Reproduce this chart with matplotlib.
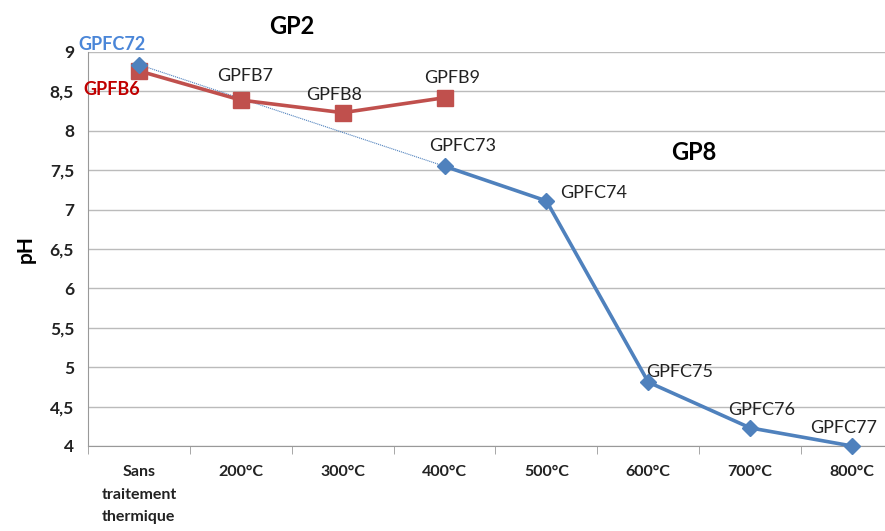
import matplotlib.pyplot as plt
import numpy as np
from matplotlib.ticker import FuncFormatter, FixedLocator

plt.rcParams['font.family'] = ['Lato', 'DejaVu Sans']

# categories
categories = ["Sans\ntraitement\nthermique", "200°C", "300°C", "400°C",
              "500°C", "600°C", "700°C", "800°C"]

# series GP8 (blue) and GP2 (red), NaN where no sample
gp8_ph = [8.84, np.nan, np.nan, 7.55, 7.11, 4.81, 4.23, 4.00]
gp8_names = ["GPFC72", None, None, "GPFC73", "GPFC74", "GPFC75", "GPFC76", "GPFC77"]
gp2_ph = [8.76, 8.39, 8.23, 8.42, np.nan, np.nan, np.nan, np.nan]
gp2_names = ["GPFB6", "GPFB7", "GPFB8", "GPFB9", None, None, None, None]

blue = "#4F81BD"
red = "#C0504D"

fig = plt.figure(figsize=(8.85, 5.31), dpi=100)
ax = fig.add_axes([88/885, 1 - 446/531, (903 - 88)/885, (446 - 52)/531])

x = np.arange(len(categories))

# thin dotted link between first and 400°C sample of GP8
ax.plot([x[0], x[3]], [gp8_ph[0], gp8_ph[3]], color=blue, lw=0.8, ls=(0, (1, 0.8)), zorder=2)

ax.plot(x, gp2_ph, color=red, lw=2.6, marker="s", ms=11, zorder=3, clip_on=False)
ax.plot(x, gp8_ph, color=blue, lw=2.6, marker="D", ms=8.5, zorder=4, clip_on=False)

ax.set_xlim(-0.5, 7.5)
ax.set_ylim(4, 9)
ax.set_yticks(np.arange(4, 9.01, 0.5))
ax.yaxis.set_major_formatter(FuncFormatter(lambda v, p: ("%g" % v).replace(".", ",")))
ax.set_xticks(x)
ax.set_xticklabels(categories, fontweight="bold", fontsize=11.5, color="#222222", linespacing=1.75)
ax.xaxis.set_minor_locator(FixedLocator(np.arange(-0.5, 7.6, 1)))
ax.tick_params(axis="x", which="major", length=0, pad=14)
ax.tick_params(axis="x", which="minor", length=6, color="#999999")
ax.tick_params(axis="y", length=0, pad=10, labelsize=12.5)
for t in ax.get_yticklabels():
    t.set_fontweight("bold")
    t.set_color("#222222")

ax.grid(axis="y", color="#BBBBBB", lw=1)
ax.set_axisbelow(True)
for s in ["top", "right"]:
    ax.spines[s].set_visible(False)
ax.spines["left"].set_color("#999999")
ax.spines["bottom"].set_color("#999999")

ax.set_ylabel("pH", fontweight="bold", fontsize=15, labelpad=10)

# point labels
lab_pos = {
    "GPFC72": (-0.26, 9.10), "GPFB6": (-0.27, 8.52),
    "GPFB7": (1.04, 8.70), "GPFB8": (1.92, 8.45), "GPFB9": (3.07, 8.67),
    "GPFC73": (3.18, 7.81), "GPFC74": (4.46, 7.21), "GPFC75": (5.31, 4.94),
    "GPFC76": (6.11, 4.46), "GPFC77": (6.92, 4.23),
}
for name in gp8_names + gp2_names:
    if name is None:
        continue
    px, py = lab_pos[name]
    if name == "GPFC72":
        ax.text(px, py, name, color="#4A86D8", fontweight="bold", fontsize=13,
                ha="center", va="center", clip_on=False)
    elif name == "GPFB6":
        ax.text(px, py, name, color="#C00000", fontweight="bold", fontsize=13,
                ha="center", va="center", clip_on=False)
    else:
        ax.text(px, py, name, color="#222222", fontsize=13,
                ha="center", va="center", clip_on=False)

ax.text(1.50, 9.32, "GP2", fontweight="bold", fontsize=17, ha="center", va="center", clip_on=False)
ax.text(5.45, 7.72, "GP8", fontweight="bold", fontsize=17, ha="center", va="center")

fig.savefig("out.png", dpi=100)
